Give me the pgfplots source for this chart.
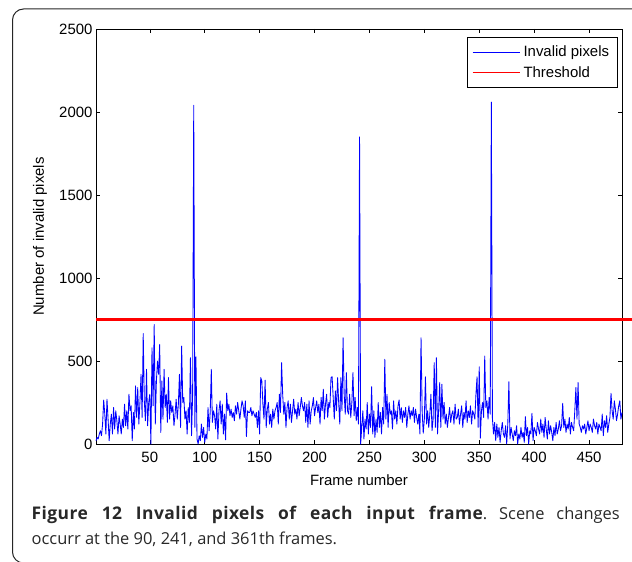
\documentclass[border=0pt]{standalone}
\usepackage{fontspec}
\setmainfont{Liberation Sans}
\newfontfamily\capfont{Open Sans}
\newfontfamily\capboldfont[LetterSpace=2.5]{Open Sans Bold}
\usepackage{pgfplots}
\pgfplotsset{compat=1.18}
\definecolor{capgray}{RGB}{40,40,40}
\begin{document}
\begin{tikzpicture}
\clip (0,0) rectangle (632bp,562bp);
\draw[line width=1bp, black!85, rounded corners=11bp] (12.5bp,553bp) rectangle (660bp,-1bp);
\begin{axis}[
  at={(96bp,118bp)}, anchor=south west,
  width=526bp, height=415bp, scale only axis,
  xmin=1, xmax=480, ymin=0, ymax=2500,
  clip=false,
  xtick={50,100,...,450}, ytick={0,500,...,2500},
  tick align=inside, major tick length=4bp,
  axis line style={line width=0.8bp},
  every tick/.style={black, line width=0.6bp},
  tick label style={font=\fontsize{15}{18}\selectfont},
  xticklabel style={yshift=-5bp},
  /pgf/number format/assume math mode=true,
  scaled ticks=false,
  /pgf/number format/1000 sep={},
  xlabel={Frame number}, ylabel={Number of invalid pixels},
  label style={font=\fontsize{15}{18}\selectfont},
  xlabel style={at={(axis description cs:0.5,-0.0867)}, anchor=center},
  ylabel style={at={(axis description cs:-0.1065,0.5)}, anchor=center},
  legend style={at={(rel axis cs:1,1)}, anchor=north east, xshift=-4bp, yshift=-8bp,
    line width=0.8bp, font=\fontsize{15}{18}\selectfont,
    inner xsep=5bp, inner ysep=5bp, row sep=1.5bp, nodes={inner sep=3.5bp}},
  legend cell align=left,
  legend image code/.code={\draw[#1] (0bp,0bp) -- (47bp,0bp);},
]
\addplot[draw=blue, line width=0.85bp, line join=round] coordinates {
(1,20)(2,40)(3,30)(4,60)(5,80)(6,50)(7,120)(8,265)(9,180)(10,60)
(11,270)(12,150)(13,20)(14,120)(15,180)(16,60)(17,220)(18,90)(19,200)(20,140)
(21,60)(22,170)(23,120)(24,60)(25,150)(26,100)(27,240)(28,110)(29,200)(30,90)
(31,300)(32,200)(33,230)(34,20)(35,190)(36,90)(37,350)(38,160)(39,340)(40,120)
(41,250)(42,420)(43,160)(44,665)(45,260)(46,140)(47,450)(48,110)(49,250)(50,300)
(51,0)(52,580)(53,230)(54,720)(55,120)(56,380)(57,500)(58,420)(59,600)(60,70)
(61,380)(62,150)(63,450)(64,220)(65,300)(66,130)(67,400)(68,150)(69,260)(70,190)
(71,230)(72,110)(73,180)(74,270)(75,150)(76,240)(77,420)(78,100)(79,590)(80,250)
(81,280)(82,150)(83,200)(84,60)(85,220)(86,130)(87,520)(88,50)(89,300)(90,2040)
(91,100)(92,525)(93,30)(94,0)(95,50)(96,20)(97,120)(98,40)(99,100)(100,10)
(101,60)(102,30)(103,220)(104,80)(105,190)(106,450)(107,130)(108,200)(109,170)(110,90)
(111,240)(112,30)(113,200)(114,260)(115,120)(116,240)(117,60)(118,180)(119,25)(120,307)
(121,200)(122,240)(123,170)(124,210)(125,160)(126,190)(127,140)(128,230)(129,180)(130,250)
(131,200)(132,150)(133,210)(134,260)(135,230)(136,160)(137,260)(138,45)(139,200)(140,190)
(141,190)(142,220)(143,170)(144,200)(145,180)(146,160)(147,190)(148,100)(149,200)(150,60)
(151,400)(152,380)(153,240)(154,150)(155,385)(156,100)(157,210)(158,250)(159,120)(160,180)
(161,100)(162,210)(163,150)(164,200)(165,220)(166,250)(167,120)(168,300)(169,190)(170,490)
(171,300)(172,180)(173,250)(174,100)(175,220)(176,260)(177,150)(178,240)(179,130)(180,200)
(181,270)(182,180)(183,210)(184,150)(185,250)(186,170)(187,220)(188,280)(189,230)(190,200)
(191,250)(192,130)(193,240)(194,100)(195,260)(196,120)(197,200)(198,230)(199,280)(200,170)
(201,220)(202,260)(203,190)(204,240)(205,120)(206,280)(207,200)(208,330)(209,150)(210,240)
(211,300)(212,160)(213,250)(214,220)(215,400)(216,405)(217,280)(218,150)(219,320)(220,200)
(221,400)(222,250)(223,120)(224,400)(225,200)(226,640)(227,300)(228,180)(229,430)(230,200)
(231,180)(232,300)(233,160)(234,250)(235,430)(236,170)(237,280)(238,140)(239,220)(240,120)
(241,1850)(242,0)(243,100)(244,200)(245,30)(246,150)(247,90)(248,250)(249,60)(250,180)
(251,100)(252,345)(253,60)(254,200)(255,40)(256,150)(257,70)(258,250)(259,100)(260,190)
(261,60)(262,220)(263,120)(264,510)(265,150)(266,300)(267,100)(268,250)(269,180)(270,200)
(271,90)(272,260)(273,150)(274,200)(275,120)(276,230)(277,265)(278,150)(279,220)(280,130)
(281,200)(282,160)(283,220)(284,100)(285,180)(286,230)(287,150)(288,200)(289,170)(290,220)
(291,130)(292,210)(293,160)(294,120)(295,180)(296,60)(297,640)(298,200)(299,65)(300,150)
(301,405)(302,120)(303,200)(304,100)(305,180)(306,300)(307,80)(308,150)(309,490)(310,100)
(311,520)(312,60)(313,200)(314,370)(315,100)(316,360)(317,150)(318,250)(319,120)(320,180)
(321,100)(322,160)(323,220)(324,130)(325,180)(326,200)(327,120)(328,240)(329,150)(330,160)
(331,210)(332,120)(333,180)(334,230)(335,100)(336,190)(337,150)(338,260)(339,130)(340,200)
(341,160)(342,230)(343,120)(344,200)(345,180)(346,150)(347,300)(348,405)(349,100)(350,465)
(351,35)(352,200)(353,250)(354,160)(355,530)(356,220)(357,260)(358,150)(359,280)(360,180)
(361,2060)(362,155)(363,60)(364,130)(365,20)(366,120)(367,40)(368,100)(369,10)(370,80)
(371,130)(372,60)(373,40)(374,110)(375,0)(376,120)(377,375)(378,30)(379,100)(380,60)
(381,20)(382,80)(383,50)(384,110)(385,0)(386,60)(387,30)(388,100)(389,40)(390,70)
(391,10)(392,165)(393,50)(394,100)(395,0)(396,80)(397,60)(398,185)(399,20)(400,100)
(401,80)(402,50)(403,130)(404,90)(405,60)(406,150)(407,70)(408,120)(409,40)(410,160)
(411,90)(412,30)(413,140)(414,60)(415,110)(416,70)(417,20)(418,100)(419,50)(420,130)
(421,60)(422,90)(423,140)(424,80)(425,110)(426,245)(427,100)(428,150)(429,70)(430,120)
(431,90)(432,160)(433,60)(434,130)(435,100)(436,80)(437,200)(438,340)(439,150)(440,370)
(441,120)(442,100)(443,70)(444,110)(445,90)(446,120)(447,60)(448,100)(449,140)(450,80)
(451,120)(452,100)(453,70)(454,150)(455,110)(456,90)(457,130)(458,60)(459,120)(460,100)
(461,80)(462,180)(463,50)(464,140)(465,100)(466,170)(467,70)(468,120)(469,160)(470,305)
(471,200)(472,150)(473,260)(474,210)(475,140)(476,180)(477,230)(478,260)(479,150)(480,190)
};
\addlegendentry{Invalid pixels}
\addplot[draw=red, line width=3.2bp, forget plot] coordinates {(1,750)(492,750)};
\addlegendimage{draw=red, line width=0.9bp}
\addlegendentry{Threshold}
\end{axis}
\node[anchor=base west, inner sep=0pt, text=capgray, font=\capfont\fontsize{16.5}{20}\selectfont]
  at (31.5bp,42bp) {\frenchspacing\makebox[588bp][s]{{\capboldfont\fontsize{17.5}{20}\selectfont Figure 12 Invalid pixels of each input frame}. Scene changes}};
\node[anchor=base west, inner sep=0pt, text=capgray, font=\capfont\fontsize{16.5}{20}\selectfont]
  at (31.5bp,18bp) {occurr at the 90, 241, and 361th frames.};
\end{tikzpicture}
\end{document}
